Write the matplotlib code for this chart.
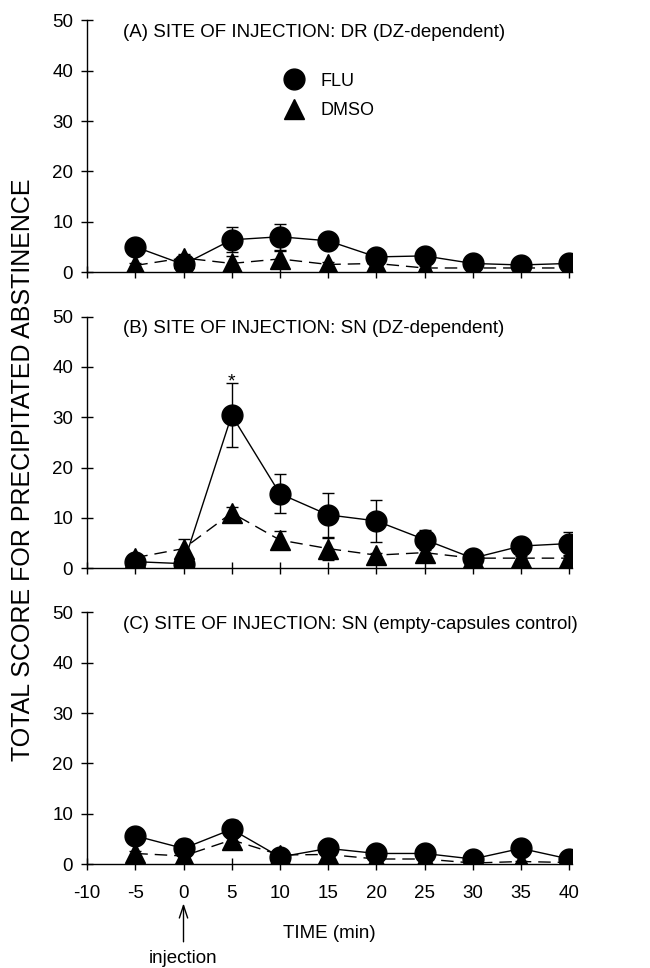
import matplotlib
matplotlib.use('Agg')
import matplotlib.pyplot as plt
from matplotlib.lines import Line2D

plt.rcParams['font.family'] = ['Liberation Sans', 'DejaVu Sans']
plt.rcParams['axes.unicode_minus'] = False

time = [-5, 0, 5, 10, 15, 20, 25, 30, 35, 40]

# panel A: DR, DZ-dependent
flu_a = [5.0, 1.5, 6.4, 7.0, 6.2, 3.0, 3.2, 1.7, 1.4, 1.7]
flu_a_err = [0.8, 0.6, 2.5, 2.6, 1.2, 0.5, 0.5, 0.3, 0.3, 0.4]
dmso_a = [1.3, 2.8, 1.7, 2.6, 1.5, 1.7, 0.8, 0.8, 0.8, 0.8]
dmso_a_err = [0.4, 0.8, 1.4, 1.6, 0.5, 0.4, 0.3, 0.3, 0.3, 0.3]

# panel B: SN, DZ-dependent
flu_b = [1.3, 0.9, 30.4, 14.8, 10.6, 9.4, 5.7, 2.0, 4.4, 4.9]
flu_b_err = [0.5, 0.4, 6.4, 3.9, 4.3, 4.1, 1.8, 0.5, 0.8, 2.2]
dmso_b = [2.1, 3.9, 11.0, 5.6, 3.9, 2.6, 3.1, 2.0, 2.0, 2.0]
dmso_b_err = [0.4, 1.9, 1.2, 1.7, 2.2, 0.5, 0.6, 0.4, 0.4, 0.4]

# panel C: SN, empty capsules control
flu_c = [5.6, 3.1, 6.9, 1.4, 3.1, 2.1, 2.1, 1.0, 3.1, 1.0]
flu_c_err = [0.6, 1.8, 1.8, 0.5, 1.7, 0.5, 0.5, 0.3, 1.6, 0.3]
dmso_c = [2.1, 1.6, 4.8, 1.8, 1.9, 1.0, 1.0, 0.2, 0.5, 0.3]
dmso_c_err = [0.5, 0.5, 0.8, 0.4, 0.4, 0.3, 0.3, 0.2, 0.2, 0.2]

titles = ['(A) SITE OF INJECTION: DR (DZ-dependent)',
          '(B) SITE OF INJECTION: SN (DZ-dependent)',
          '(C) SITE OF INJECTION: SN (empty-capsules control)']

panels = [(flu_a, flu_a_err, dmso_a, dmso_a_err),
          (flu_b, flu_b_err, dmso_b, dmso_b_err),
          (flu_c, flu_c_err, dmso_c, dmso_c_err)]

fig = plt.figure(figsize=(6.5, 9.68), dpi=100)
bottoms = [0.719, 0.413, 0.1074]
axes = []
for i, (flu, flu_err, dmso, dmso_err) in enumerate(panels):
    ax = fig.add_axes([0.134, bottoms[i], 0.746, 0.26])
    axes.append(ax)
    ax.errorbar(time, dmso, yerr=dmso_err, color='black', lw=1.0,
                dashes=(9, 5), marker='^', markersize=14, capsize=4,
                elinewidth=1.0, capthick=1.0, zorder=2)
    ax.errorbar(time, flu, yerr=flu_err, color='black', lw=1.0,
                marker='o', markersize=15, capsize=4,
                elinewidth=1.0, capthick=1.0, zorder=3)
    ax.set_xlim(-10, 40.3)
    ax.set_ylim(0, 50)
    ax.set_yticks([0, 10, 20, 30, 40, 50])
    ax.set_xticks(range(-10, 45, 5))
    ax.spines['top'].set_visible(False)
    ax.spines['right'].set_visible(False)
    ax.spines['left'].set_linewidth(1.0)
    ax.spines['bottom'].set_linewidth(1.0)
    ax.tick_params(direction='inout', length=8, width=1.0, labelsize=13.5)
    ax.tick_params(axis='y', pad=6)
    ax.tick_params(axis='x', pad=11)
    if i < 2:
        ax.tick_params(axis='x', labelbottom=False)
    ax.text(-6.3, 47.6, titles[i], fontsize=13.5, va='center', ha='left')

# legend in panel A
handles = [Line2D([], [], color='black', marker='o', markersize=15, lw=0),
           Line2D([], [], color='black', marker='^', markersize=14, lw=0)]
axes[0].legend(handles, ['FLU', 'DMSO'], frameon=False, fontsize=13,
               loc='center left', bbox_to_anchor=(0.37, 0.70),
               handlelength=1.2, handletextpad=0.9, labelspacing=0.7)

# significance marker
axes[1].text(5, 37.0, '*', fontsize=14, ha='center', va='center')

ax = axes[2]
ax.set_xlabel('TIME (min)', fontsize=13.5, labelpad=17)
ax.annotate('', xy=(0, -0.145), xytext=(0, -0.32),
            xycoords=('data', 'axes fraction'), textcoords=('data', 'axes fraction'),
            arrowprops=dict(arrowstyle='->,head_length=0.9,head_width=0.3', lw=1.0,
                            color='black'), annotation_clip=False)
ax.text(0, -0.375, 'injection', fontsize=13.5, ha='center', va='center',
        transform=ax.get_xaxis_transform())

fig.text(0.035, 0.515, 'TOTAL SCORE FOR PRECIPITATED ABSTINENCE', rotation=90,
         fontsize=18, ha='center', va='center')

fig.savefig('out.png', dpi=100)
